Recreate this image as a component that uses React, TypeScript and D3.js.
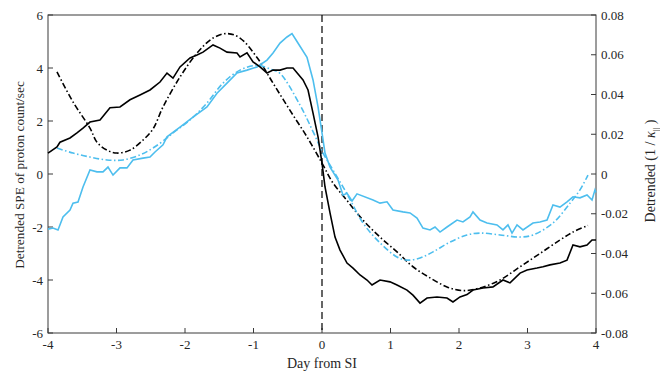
import React from "react";
import * as d3 from "d3";

// ---- data (days from SI, value in left-axis units) ----
const blackSolidX = [-4.0,-3.869,-3.825,-3.679,-3.577,-3.489,-3.387,-3.241,-3.095,-2.949,-2.803,-2.657,-2.511,-2.365,-2.263,-2.175,-2.073,-1.927,-1.825,-1.737,-1.591,-1.489,-1.387,-1.241,-1.197,-1.095,-1.007,-0.905,-0.803,-0.715,-0.613,-0.511,-0.423,-0.277,-0.204,-0.131,-0.058,0.0,0.044,0.117,0.19,0.263,0.365,0.453,0.555,0.657,0.73,0.847,0.993,1.095,1.241,1.328,1.431,1.533,1.679,1.825,1.912,2.015,2.117,2.204,2.35,2.496,2.642,2.745,2.891,2.993,3.139,3.226,3.328,3.474,3.577,3.664,3.766,3.869,3.942,4.0];
const blackSolidY = [0.79,1.02,1.2,1.36,1.55,1.73,1.96,2.04,2.5,2.53,2.8,2.98,3.17,3.47,3.81,3.62,4.04,4.38,4.49,4.6,4.87,4.75,4.6,4.57,4.42,4.57,4.23,4.04,3.81,3.92,3.92,4.0,4.0,3.55,3.17,2.3,1.4,0.41,-0.49,-1.47,-2.38,-2.87,-3.36,-3.55,-3.81,-4.0,-4.19,-4.0,-4.07,-4.19,-4.38,-4.57,-4.87,-4.68,-4.64,-4.68,-4.83,-4.64,-4.55,-4.38,-4.3,-4.26,-4.0,-4.11,-3.74,-3.62,-3.55,-3.5,-3.43,-3.36,-3.25,-2.68,-2.75,-2.68,-2.49,-2.49];

const blueSolidX = [-4.0,-3.927,-3.854,-3.781,-3.679,-3.635,-3.562,-3.489,-3.387,-3.285,-3.197,-3.124,-3.051,-2.949,-2.847,-2.759,-2.613,-2.511,-2.438,-2.321,-2.263,-2.073,-1.883,-1.679,-1.533,-1.387,-1.241,-1.095,-0.949,-0.803,-0.715,-0.613,-0.511,-0.438,-0.365,-0.219,-0.131,-0.058,0.0,0.044,0.117,0.234,0.307,0.365,0.438,0.511,0.745,0.847,0.949,1.036,1.182,1.285,1.387,1.474,1.577,1.65,1.723,1.825,1.971,2.058,2.161,2.204,2.307,2.409,2.555,2.642,2.715,2.774,2.847,2.934,3.08,3.182,3.285,3.372,3.474,3.577,3.664,3.766,3.869,3.942,3.985,4.0];
const blueSolidY = [-2.08,-2.04,-2.11,-1.62,-1.36,-1.1,-1.06,-0.49,0.15,0.08,0.08,0.26,-0.04,0.23,0.23,0.53,0.6,0.64,0.83,1.1,1.4,1.77,2.15,2.53,3.05,3.43,3.81,3.92,4.04,4.3,4.57,4.94,5.17,5.3,5.0,4.4,3.55,2.53,1.55,0.79,0.26,-0.23,-0.8,-0.73,-1.02,-0.75,-0.98,-1.1,-1.05,-1.36,-1.43,-1.47,-1.66,-2.04,-2.11,-2.0,-2.19,-2.0,-1.74,-1.81,-1.62,-1.43,-1.74,-1.85,-1.92,-2.11,-1.92,-2.23,-1.92,-2.11,-1.85,-1.81,-1.74,-1.17,-1.25,-1.05,-0.86,-0.9,-0.79,-0.98,-0.6,-0.7];

const blueFitX = [-3.869,-3.635,-3.387,-3.139,-2.905,-2.657,-2.467,-2.263,-2.175,-1.927,-1.679,-1.445,-1.197,-0.949,-0.715,-0.613,-0.321,-0.131,0.015,0.161,0.365,0.599,0.847,1.095,1.241,1.431,1.62,1.869,2.117,2.307,2.599,2.891,3.08,3.372,3.62,3.766,3.883];
const blueFitY = [0.98,0.79,0.64,0.53,0.53,0.72,0.98,1.36,1.55,2.04,2.68,3.43,3.92,4.1,3.92,3.8,2.6,1.6,0.79,0.15,-0.75,-1.85,-2.6,-3.13,-3.25,-3.17,-2.94,-2.57,-2.3,-2.23,-2.3,-2.38,-2.3,-1.85,-1.1,-0.6,-0.04];

const blackFitX = [-3.869,-3.635,-3.387,-3.285,-3.139,-2.993,-2.803,-2.613,-2.467,-2.321,-2.073,-1.825,-1.591,-1.387,-1.197,-0.949,-0.715,-0.467,-0.219,0.0,0.161,0.365,0.599,0.847,1.095,1.328,1.577,1.825,2.058,2.307,2.599,2.891,3.182,3.474,3.664,3.883];
const blackFitY = [3.85,2.72,1.73,1.2,0.9,0.79,0.9,1.28,1.7,2.53,3.66,4.56,5.13,5.3,5.13,4.4,3.43,2.4,1.4,0.41,-0.34,-1.0,-1.74,-2.38,-2.94,-3.5,-3.92,-4.26,-4.4,-4.3,-4.0,-3.5,-3.0,-2.49,-2.19,-1.94];

const xTicks = [-4,-3,-2,-1,0,1,2,3,4];
const yLeftTicks = [-6,-4,-2,0,2,4,6];
const yRightTicks = [-0.08,-0.06,-0.04,-0.02,0,0.02,0.04,0.06,0.08];

const W = 660, H = 381;
const m = { left: 48, right: 596, top: 15, bottom: 333 };
const BLUE = "#4DBEEE";
const FONT = "Liberation Serif";

export default function App() {
  const x = d3.scaleLinear().domain([-4, 4]).range([m.left, m.right]);
  const yL = d3.scaleLinear().domain([-6, 6]).range([m.bottom, m.top]);
  const yR = d3.scaleLinear().domain([-0.08, 0.08]).range([m.bottom, m.top]);

  const mk = (xs: number[], ys: number[], curve: any) =>
    d3.line<number>().x((_, i) => x(xs[i])).y((v) => yL(v)).curve(curve)(ys) || "";

  const dashDot = "6,2.5,1.5,2.5";
  const axisColor = "#3a3a3a";
  const textColor = "#262626";
  const ts: React.CSSProperties = { fontFamily: FONT };

  return (
    <svg width={W} height={H} style={{ position: "absolute", left: 0, top: 0, background: "#fff", fontFamily: FONT }}>
      <rect x={m.left} y={m.top} width={m.right - m.left} height={m.bottom - m.top}
        fill="none" stroke={axisColor} strokeWidth={1} />
      {xTicks.map((t) => (
        <g key={"x" + t}>
          <line x1={x(t)} x2={x(t)} y1={m.bottom} y2={m.bottom - 5} stroke={axisColor} />
          <text style={ts} x={x(t)} y={m.bottom + 16} textAnchor="middle" fontSize={13} fill={textColor}>{t}</text>
        </g>
      ))}
      {yLeftTicks.map((t) => (
        <g key={"yl" + t}>
          <line x1={m.left} x2={m.left + 5} y1={yL(t)} y2={yL(t)} stroke={axisColor} />
          <text style={ts} x={m.left - 5} y={yL(t)} dy="0.35em" textAnchor="end" fontSize={13} fill={textColor}>{t}</text>
        </g>
      ))}
      {yRightTicks.map((t) => (
        <g key={"yr" + t}>
          <line x1={m.right} x2={m.right - 5} y1={yR(t)} y2={yR(t)} stroke={axisColor} />
          <text style={ts} x={m.right + 5} y={yR(t)} dy="0.35em" textAnchor="start" fontSize={13} fill={textColor}>{t === 0 ? "0" : t.toFixed(2)}</text>
        </g>
      ))}
      <text style={ts} x={(m.left + m.right) / 2} y={368} textAnchor="middle" fontSize={14} fill={textColor}>Day from SI</text>
      <text style={ts} transform={`translate(24,${(m.top + m.bottom) / 2 + 1}) rotate(-90)`} textAnchor="middle" fontSize={13.3} fill={textColor}>Detrended SPE of proton count/sec</text>
      <text style={ts} transform={`translate(655,${(m.top + m.bottom) / 2 - 3}) rotate(-90)`} textAnchor="middle" fontSize={14} fill={textColor}>
        Detrended (1 / <tspan fontStyle="italic">κ</tspan><tspan fontSize={9} dy="4">||</tspan><tspan dy="-4"> )</tspan>
      </text>

      <line x1={x(0)} x2={x(0)} y1={m.top} y2={m.bottom} stroke="#000" strokeWidth={1.2} strokeDasharray="7,4" />

      <path d={mk(blackFitX, blackFitY, d3.curveCatmullRom)} fill="none" stroke="#000" strokeWidth={1.6} strokeDasharray={dashDot} />
      <path d={mk(blueFitX, blueFitY, d3.curveCatmullRom)} fill="none" stroke={BLUE} strokeWidth={1.6} strokeDasharray={dashDot} />
      <path d={mk(blueSolidX, blueSolidY, d3.curveLinear)} fill="none" stroke={BLUE} strokeWidth={1.6} />
      <path d={mk(blackSolidX, blackSolidY, d3.curveLinear)} fill="none" stroke="#000" strokeWidth={1.6} />
    </svg>
  );
}
